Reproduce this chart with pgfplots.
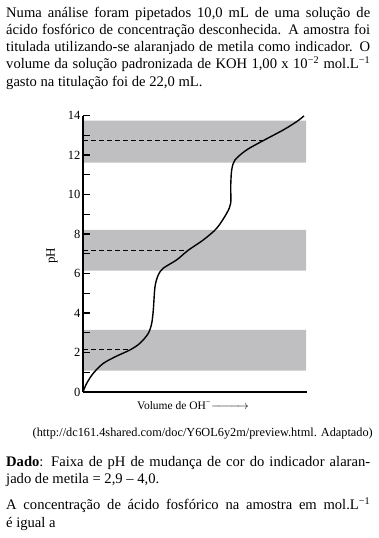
\documentclass[border=0pt]{standalone}
\usepackage{pgfplots}
\pgfplotsset{compat=1.18}
\usepackage{fontspec}
\setmainfont{Liberation Serif}
\definecolor{band}{RGB}{191,191,193}
\newcommand{\bodyfont}{\fontsize{14.6}{16.7}\selectfont}
\begin{document}
\begin{tikzpicture}[x=1pt,y=1pt]
\useasboundingbox (0,0) rectangle (378,-538);
% top paragraph
\node[anchor=base west,inner sep=0] at (6,-17.3) {\bodyfont\makebox[364pt][s]{Numa análise foram pipetados 10,0 mL de uma solução de}};
\node[anchor=base west,inner sep=0] at (6,-34.3) {\bodyfont\makebox[364pt][s]{ácido fosfórico de concentração desconhecida. A amostra foi}};
\node[anchor=base west,inner sep=0] at (6,-51) {\bodyfont\makebox[364pt][s]{titulada utilizando-se alaranjado de metila como indicador. O}};
\node[anchor=base west,inner sep=0] at (6,-68.3) {\bodyfont\makebox[364pt][s]{volume da solução padronizada de KOH 1,00 x 10\textsuperscript{−2} mol.L\textsuperscript{−1}}};
\node[anchor=base west,inner sep=0] at (6,-86.5) {\bodyfont gasto na titulação foi de 22,0 mL.};
% chart
\begin{axis}[at={(83pt,-392pt)}, anchor=south west, scale only axis,
  width=224pt, height=276.5pt,
  xmin=0, xmax=224, ymin=0, ymax=14,
  axis lines*=left, axis on top,
  xtick=\empty, ytick={0,2,...,14}, minor ytick={1,3,...,13},
  tick align=inside, major tick length=7pt, minor tick length=7pt,
  axis line style={line width=1.2pt},
  tick style={line width=1.1pt, black},
  yticklabel style={font=\fontsize{12.5}{13}\selectfont, xshift=1pt},
  /pgf/number format/assume math mode=true,
  clip=false]
\addplot[fill=band, draw=none, forget plot] coordinates {(0,1.08) (223,1.08) (223,3.14) (0,3.14) (0,1.08)};
\addplot[fill=band, draw=none, forget plot] coordinates {(0,6.14) (223,6.14) (223,8.21) (0,8.21) (0,6.14)};
\addplot[fill=band, draw=none, forget plot] coordinates {(0,11.62) (223,11.62) (223,13.74) (0,13.74) (0,11.62)};
\addplot[line width=0.9pt, dash pattern=on 5pt off 3pt] coordinates {(0,2.14) (47,2.14)};
\addplot[line width=0.9pt, dash pattern=on 5pt off 3pt] coordinates {(0,7.15) (105,7.15)};
\addplot[line width=0.9pt, dash pattern=on 5pt off 3pt] coordinates {(0,12.75) (180,12.75)};
\addplot[smooth, line width=1.4pt] coordinates {
(0,0) (3.7,0.44) (10.3,0.95) (20.3,1.45) (33.7,1.82) (47,2.13) (57,2.47)
(65.3,2.97) (68.7,3.48) (70.3,4.15) (72,5.33) (75.3,5.93) (80.3,6.27)
(93.7,6.69) (105,7.17) (120.3,7.70) (133.7,8.29) (143.7,9.05) (147.7,9.56)
(147.7,10.40) (148.7,11.25) (152,11.75) (163.7,12.26) (180.3,12.73)
(200.3,13.27) (213.7,13.69) (221,13.98)};
\end{axis}
\node[rotate=90, inner sep=0] at (52,-256) {\fontsize{13}{14}\selectfont pH};
\node[anchor=base west, inner sep=0] at (137,-409) {\fontsize{11.5}{12}\selectfont Volume de OH\textsuperscript{−}\makebox[38pt]{\rightarrowfill}};
\node[anchor=base east, inner sep=0] at (373,-436) {\fontsize{12.3}{13}\selectfont (http://dc161.4shared.com/doc/Y6OL6y2m/preview.html. Adaptado)};
% bottom text
\node[anchor=base west,inner sep=0] at (6,-466.7) {\bodyfont\makebox[364pt][s]{\textbf{Dado}: Faixa de pH de mudança de cor do indicador alaran-}};
\node[anchor=base west,inner sep=0] at (6,-483.5) {\bodyfont jado de metila = 2,9 – 4,0.};
\node[anchor=base west,inner sep=0] at (6,-509.5) {\bodyfont\makebox[364pt][s]{A concentração de ácido fosfórico na amostra em mol.L\textsuperscript{−1}}};
\node[anchor=base west,inner sep=0] at (6,-527.5) {\bodyfont é igual a};
\end{tikzpicture}
\end{document}
